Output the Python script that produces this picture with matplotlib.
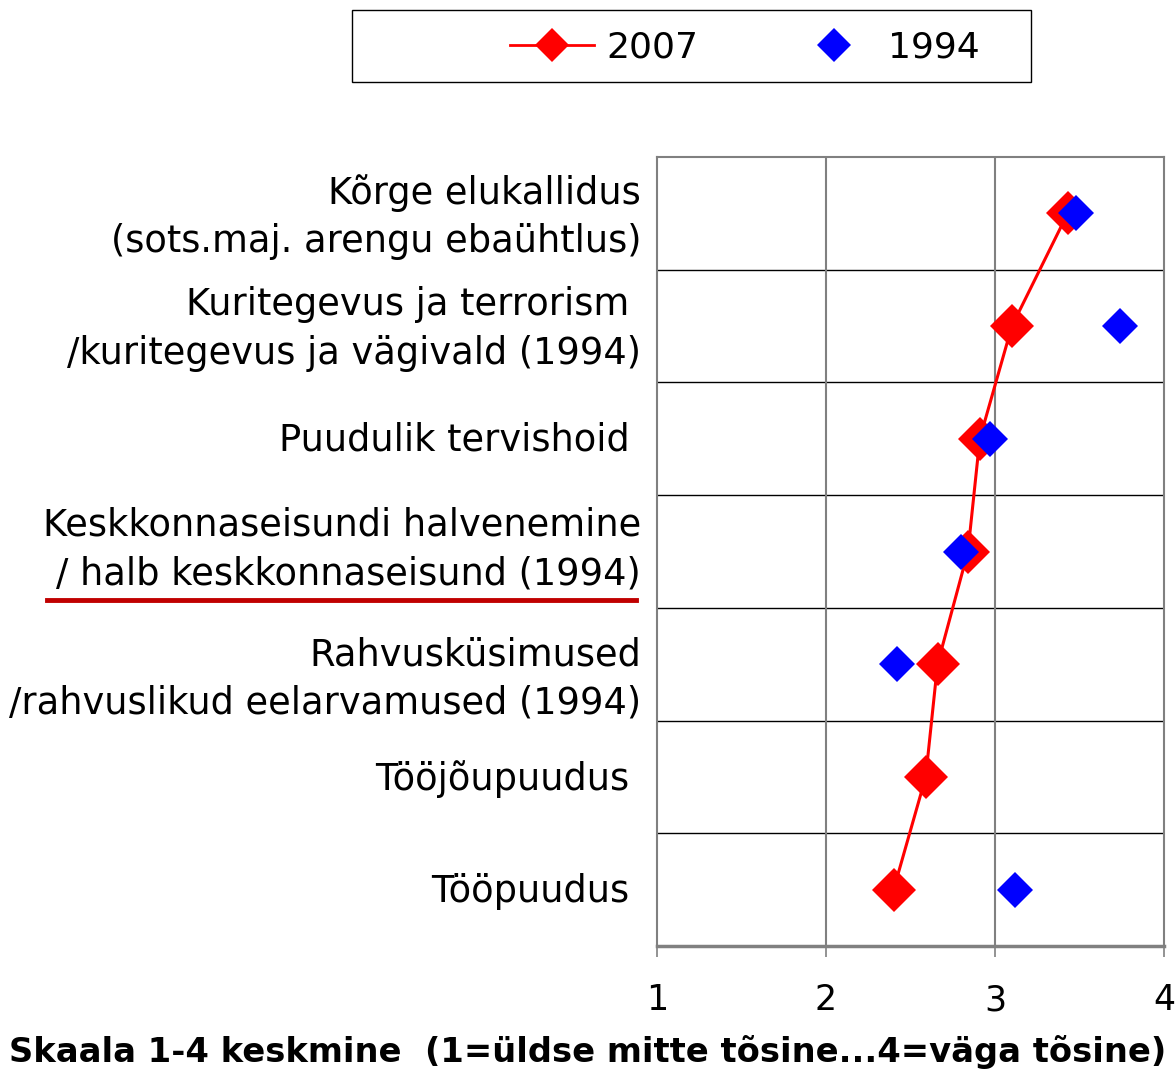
import matplotlib
matplotlib.use("Agg")
import matplotlib.pyplot as plt
from matplotlib.patches import Rectangle
from matplotlib.lines import Line2D
import matplotlib.transforms as mtransforms

categories = [
    "Kõrge elukallidus\n(sots.maj. arengu ebaühtlus)",
    "Kuritegevus ja terrorism \n/kuritegevus ja vägivald (1994)",
    "Puudulik tervishoid ",
    "Keskkonnaseisundi halvenemine\n/ halb keskkonnaseisund (1994)",
    "Rahvusküsimused\n/rahvuslikud eelarvamused (1994)",
    "Tööjõupuudus ",
    "Tööpuudus ",
]
values_2007 = [3.43, 3.10, 2.91, 2.84, 2.66, 2.59, 2.40]
values_1994 = [3.48, 3.74, 2.97, 2.80, 2.42, None, 3.12]
x_ticks = [1, 2, 3, 4]
x_label = "Skaala 1-4 keskmine  (1=üldse mitte tõsine...4=väga tõsine)"
series_names = ["2007", "1994"]

W, H = 1175, 1070
fig = plt.figure(figsize=(W / 100, H / 100), dpi=100)
plt.rcParams['font.family'] = ['DejaVu Sans']

ax = fig.add_axes([657 / W, 1 - 946 / H, (1164 - 657) / W, (946 - 157) / H])

ypos = list(range(len(categories)))
ax.plot(values_2007, ypos, color='#FF0000', lw=2.2, marker='D', ms=22.5,
        markeredgewidth=0, zorder=3)
bx = [v for v in values_1994 if v is not None]
by = [y for y, v in zip(ypos, values_1994) if v is not None]
ax.plot(bx, by, linestyle='none', color='#0000FF', marker='D', ms=18.5,
        markeredgewidth=0, zorder=4)

ax.set_xlim(1, 4)
ax.set_ylim(len(categories) - 0.5, -0.5)
ax.set_xticks(x_ticks)
ax.set_xticklabels([str(t) for t in x_ticks], fontsize=25)
ax.tick_params(axis='x', length=8, width=1.2, color='#808080', pad=19)

ax.set_yticks(ypos)
ax.set_yticklabels(categories, fontsize=26.5, linespacing=1.4)
ax.tick_params(axis='y', length=0, pad=11.5)
offsets = [-6, -7, -3, -12, 5, -2, -2]
for lbl, off in zip(ax.get_yticklabels(), offsets):
    lbl.set_transform(lbl.get_transform() +
                      mtransforms.ScaledTranslation(0, -off / 100, fig.dpi_scale_trans))

# grid
for b in [y + 0.5 for y in ypos[:-1]]:
    ax.axhline(b, color='black', lw=1, zorder=1)
for t in x_ticks[1:-1]:
    ax.axvline(t, color='#808080', lw=1.5, zorder=1)

for s in ax.spines.values():
    s.set_color('#808080')
    s.set_linewidth(1.5)
ax.spines['bottom'].set_linewidth(2.5)

ax.set_xlabel(x_label, fontsize=24.3, fontweight='bold', va='center')
ax.xaxis.set_label_coords((587.5 - 657) / 507, (946 - 1052) / 789)

# red underline below label
fig.add_artist(Line2D([47 / W, 636 / W], [1 - 600 / H, 1 - 600 / H],
                      color='#C00000', lw=3.5))

# legend
fig.add_artist(Rectangle((352 / W, 1 - 82 / H), (1031 - 352) / W, 72 / H,
                         fill=False, edgecolor='black', lw=1,
                         transform=fig.transFigure))
h1 = Line2D([], [], color='#FF0000', lw=2, marker='D', ms=17, markeredgewidth=0)
h2 = Line2D([], [], color='#0000FF', lw=0, marker='D', ms=17, markeredgewidth=0)
fig.legend([h1, h2], series_names, loc='center',
           bbox_to_anchor=(745 / W, 1 - 48 / H), ncol=2, frameon=False,
           fontsize=26, handlelength=2.3, columnspacing=2.6, handletextpad=0.35)

fig.savefig("out.png", dpi=100)
